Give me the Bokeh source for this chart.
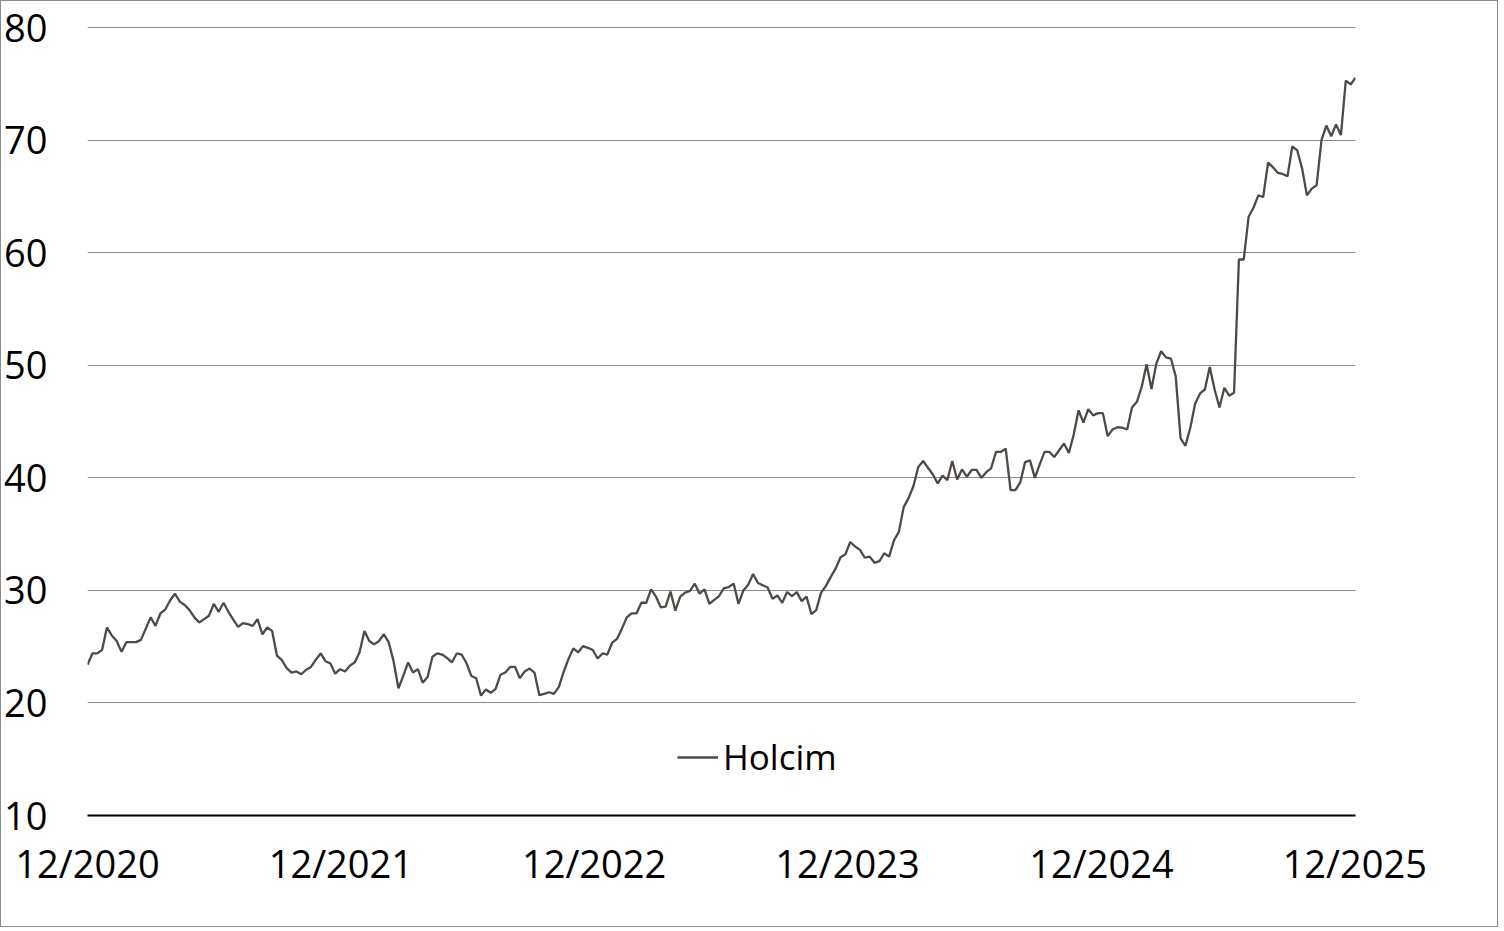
import pandas as pd
from bokeh.plotting import figure
from bokeh.models import (FixedTicker, DatetimeTickFormatter, Legend, LegendItem,
                          ColumnDataSource, Range1d)
from bokeh.embed import file_html
from bokeh.resources import INLINE

# Weekly closing prices
holcim = [
    23.4, 24.4, 24.4, 24.7, 26.7, 26.0, 25.5, 24.55, 25.4, 25.4, 25.4, 25.6, 26.6, 27.6, 26.85,
    27.95, 28.3, 29.1, 29.7, 29.0, 28.7, 28.25, 27.6, 27.15, 27.45, 27.75, 28.8, 28.1, 28.9, 28.1,
    27.4, 26.75, 27.1, 27.0, 26.85, 27.45, 26.1, 26.7, 26.4, 24.2, 23.8, 23.1, 22.7, 22.8, 22.55,
    22.95, 23.2, 23.85, 24.4,
    23.7, 23.5, 22.6, 23.0, 22.8, 23.3, 23.6, 24.5, 26.4, 25.5, 25.2, 25.5, 26.1, 25.4, 23.7,
    21.3, 22.4, 23.6, 22.7, 23.0, 21.8, 22.3, 24.1, 24.4, 24.3, 24.0, 23.6, 24.4, 24.3, 23.55,
    22.4, 22.2, 20.65, 21.2, 20.9, 21.25, 22.5, 22.7, 23.2, 23.2, 22.2, 22.8, 23.05, 22.7, 20.7,
    20.8, 20.95, 20.8, 21.4, 22.75, 23.9, 24.85, 24.5, 25.05, 24.9, 24.7, 23.95, 24.4, 24.3, 25.35,
    25.7, 26.6, 27.6, 27.95, 27.95, 28.9, 28.9, 30.1, 29.45, 28.5, 28.55, 29.9, 28.2, 29.45, 29.8,
    29.95, 30.6, 29.7, 30.1, 28.8, 29.15, 29.5, 30.2, 30.3, 30.6, 28.8, 30.0, 30.5, 31.45, 30.65,
    30.45, 30.25, 29.25, 29.55, 28.9, 29.85, 29.5, 29.85, 29.05, 29.45, 27.9, 28.25, 29.8, 30.4, 31.2,
    31.95, 32.95, 33.2, 34.3, 33.9, 33.6, 32.9, 33.0, 32.45, 32.6, 33.3, 33.0, 34.45, 35.2, 37.4,
    38.2, 39.25, 40.95, 41.5, 40.9, 40.3, 39.5, 40.2, 39.8, 41.5, 39.85, 40.75, 40.1, 40.7, 40.7,
    40.0, 40.5, 40.85, 42.3, 42.3, 42.6, 38.9, 38.9, 39.6, 41.4, 41.55, 40.0, 41.2, 42.3, 42.3,
    41.85, 42.45, 43.05, 42.2, 43.85,
    46.0, 44.9, 46.1, 45.55, 45.75, 45.75, 43.7, 44.3, 44.5, 44.45, 44.3, 46.25, 46.75, 48.1, 50.1,
    47.9, 50.15, 51.25, 50.7, 50.6, 49.0, 43.5, 42.85, 44.45, 46.6, 47.5, 47.85, 49.85, 47.85, 46.25,
    48.0, 47.3, 47.55,
    59.4, 59.4, 63.2, 64.0, 65.1, 64.95, 68.0, 67.6, 67.1, 67.0, 66.8, 69.45, 69.1, 67.5, 65.1,
    65.7, 66.0, 70.0, 71.3, 70.35, 71.4, 70.45, 75.3, 74.95, 75.55,
]
start_date = "2020-12-01"
x_tick_dates = ["2020-12-01", "2021-12-01", "2022-12-01", "2023-12-01", "2024-12-01", "2025-12-01"]
y_ticks = [10, 20, 30, 40, 50, 60, 70, 80]
series_name = "Holcim"

dates = pd.date_range(start_date, periods=len(holcim), freq="7D")
src = ColumnDataSource(dict(date=dates, price=holcim))

FONT = "Open Sans"
LINE_COLOR = "#4f4a44"

p = figure(width=1498, height=927, x_axis_type="datetime",
           output_backend="svg", toolbar_location=None,
           x_range=Range1d(dates[0], dates[-1]), y_range=Range1d(10, 80.1),
           min_border_left=86, min_border_right=144, min_border_top=25, min_border_bottom=113)
p.styles = {"border": "1px solid #8c8c8c"}
p.outline_line_color = None
p.background_fill_color = "white"
p.border_fill_color = "white"

r = p.line("date", "price", source=src, line_color=LINE_COLOR, line_width=2.3)

# x axis
xticks_ms = [pd.Timestamp(d).value // 10**6 for d in x_tick_dates]
p.xaxis.ticker = FixedTicker(ticks=xticks_ms)
fmt = "%m/%Y"
p.xaxis.formatter = DatetimeTickFormatter(years=fmt, months=fmt, days=fmt, hours=fmt,
                                          minutes=fmt, seconds=fmt, milliseconds=fmt,
                                          microseconds=fmt, minsec=fmt, hourmin=fmt)
p.xaxis.axis_line_color = "black"
p.xaxis.axis_line_width = 2
p.xaxis.major_tick_line_color = None
p.xaxis.minor_tick_line_color = None
p.xaxis.major_tick_out = 0
p.xaxis.major_tick_in = 0
p.xaxis.major_label_standoff = 21
p.xaxis.major_label_text_font = FONT
p.xaxis.major_label_text_font_size = "38px"
p.xaxis.major_label_text_color = "black"
p.xgrid.visible = False

# y axis
p.yaxis.ticker = FixedTicker(ticks=y_ticks)
p.yaxis.axis_line_color = None
p.yaxis.major_tick_line_color = None
p.yaxis.minor_tick_line_color = None
p.yaxis.major_tick_out = 0
p.yaxis.major_tick_in = 0
p.yaxis.major_label_standoff = 40
p.yaxis.major_label_text_font = FONT
p.yaxis.major_label_text_font_size = "38px"
p.yaxis.major_label_text_color = "black"
p.ygrid.ticker = FixedTicker(ticks=y_ticks[1:])
p.ygrid.grid_line_color = "#8a8a8a"
p.ygrid.grid_line_width = 1

legend = Legend(items=[LegendItem(label=series_name, renderers=[r])],
                location=(590, 35), border_line_color=None, background_fill_alpha=0,
                padding=0, margin=0, spacing=0, glyph_width=41, label_standoff=5,
                label_text_font=FONT, label_text_font_size="35px", label_text_color="black")
p.add_layout(legend)

open("out.html", "w").write(file_html(p, INLINE))
